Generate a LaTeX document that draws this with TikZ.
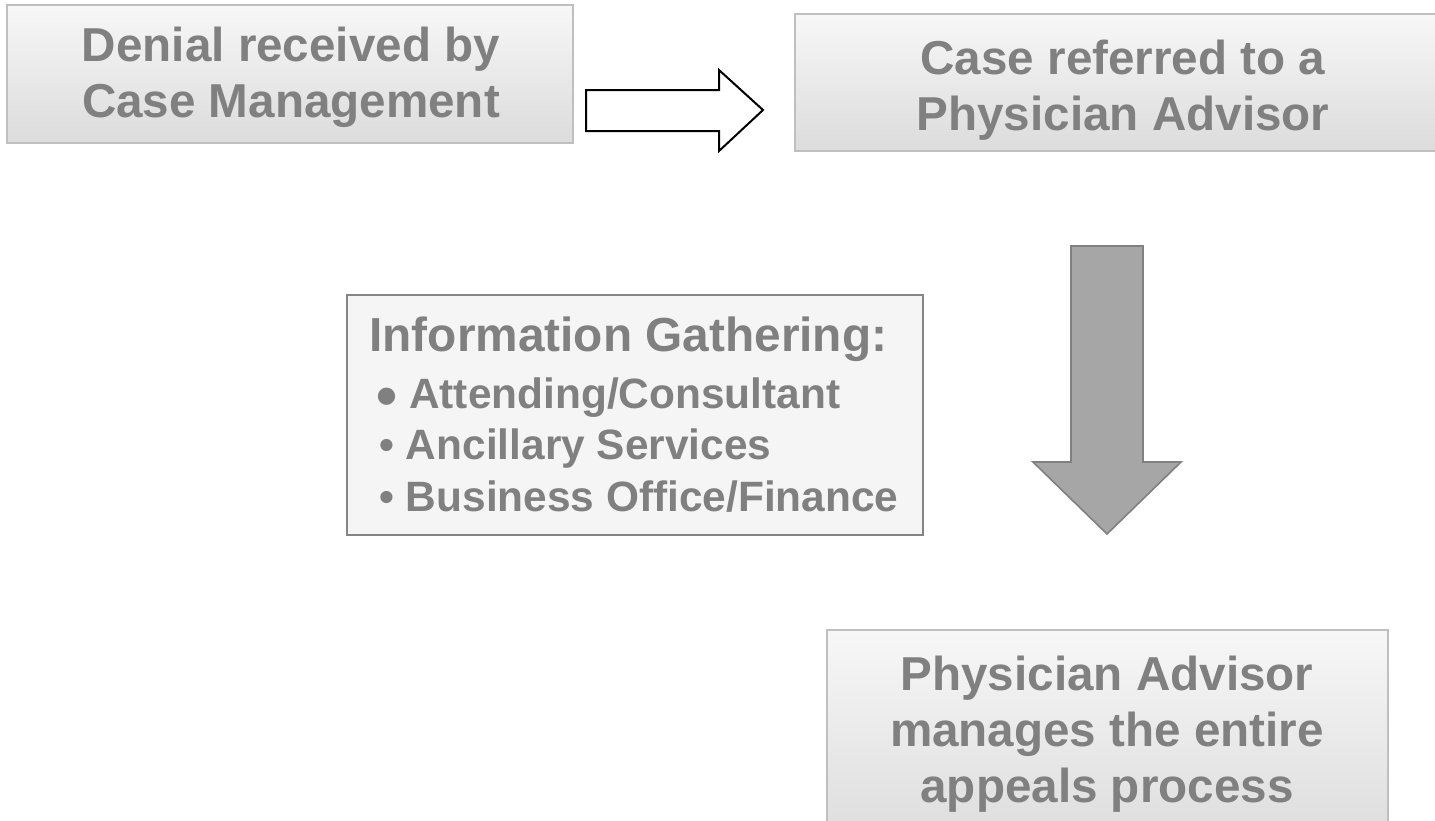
\documentclass[tikz,border=0pt]{standalone}
\usepackage{fontspec}
\setmainfont{Liberation Sans}
\usetikzlibrary{fit}
\definecolor{txtgray}{HTML}{808080}
\definecolor{boxtop}{HTML}{F7F7F7}
\definecolor{boxbot}{HTML}{DCDCDC}
\definecolor{boxline}{HTML}{BFBFBF}
\definecolor{infofill}{HTML}{F5F5F5}
\definecolor{infoline}{HTML}{858585}
\definecolor{arrowfill}{HTML}{A6A6A6}
\definecolor{arrowline}{HTML}{808080}
\begin{document}
\begin{tikzpicture}[x=0.5pt,y=-0.5pt,
  gbox/.style={inner sep=0pt, draw=boxline, line width=1.1pt, top color=boxtop, bottom color=boxbot},
  infobox/.style={inner sep=0pt, draw=infoline, line width=1pt, fill=infofill},
  maintxt/.style={inner sep=0pt, align=center, text=txtgray, font=\fontsize{23.8}{28}\selectfont\bfseries},
  headtxt/.style={inner sep=0pt, text=txtgray, font=\fontsize{23.9}{28}\selectfont\bfseries},
  bultxt/.style={inner sep=0pt, text=txtgray, font=\fontsize{21.2}{25}\selectfont\bfseries},
  hollowarrow/.style={draw=black, fill=white, line width=1pt, line join=miter},
  blockarrow/.style={draw=arrowline, fill=arrowfill, line width=0.8pt, line join=miter}]
\useasboundingbox (0,0) rectangle (1435,820);
\clip (0,0) rectangle (1435,820);
\fill[white] (0,0) rectangle (1435,820);

% boxes
\node[gbox, fit={(7,5) (573,143)}] (box1) {};
\node[gbox, fit={(795,14) (1449,151)}] (box2) {};
\node[infobox, fit={(347,295) (923,535)}] (box3) {};
\node[gbox, fit={(827,630) (1388,850)}] (box4) {};

% texts
\node[maintxt] (t1) at (291,77.5) {Denial received by\\Case Management};
\node[maintxt] (t2) at (1123,90) {Case referred to a\\Physician Advisor};
\node[maintxt] (t4) at (1107,734) {Physician Advisor\\manages the entire\\appeals process};
\node[headtxt, anchor=base west] (ih) at (369,351) {Information Gathering:};
\node[bultxt, anchor=base west] (i1) at (376,408) {\raisebox{-4.3pt}{\fontsize{30}{30}\selectfont •} Attending/Consultant};
\node[bultxt, anchor=base west] (i2) at (379,459) {• Ancillary Services};
\node[bultxt, anchor=base west] (i3) at (379,511) {• Business Office/Finance};

% block arrows
\draw[hollowarrow] (586,90) -- (719,90) -- (719,70) -- (763,110) -- (719,151) -- (719,131) -- (586,131) -- cycle;
\draw[blockarrow] (1071,246) -- (1143,246) -- (1143,462) -- (1181,462) -- (1107,534) -- (1033,462) -- (1071,462) -- cycle;
\end{tikzpicture}
\end{document}
